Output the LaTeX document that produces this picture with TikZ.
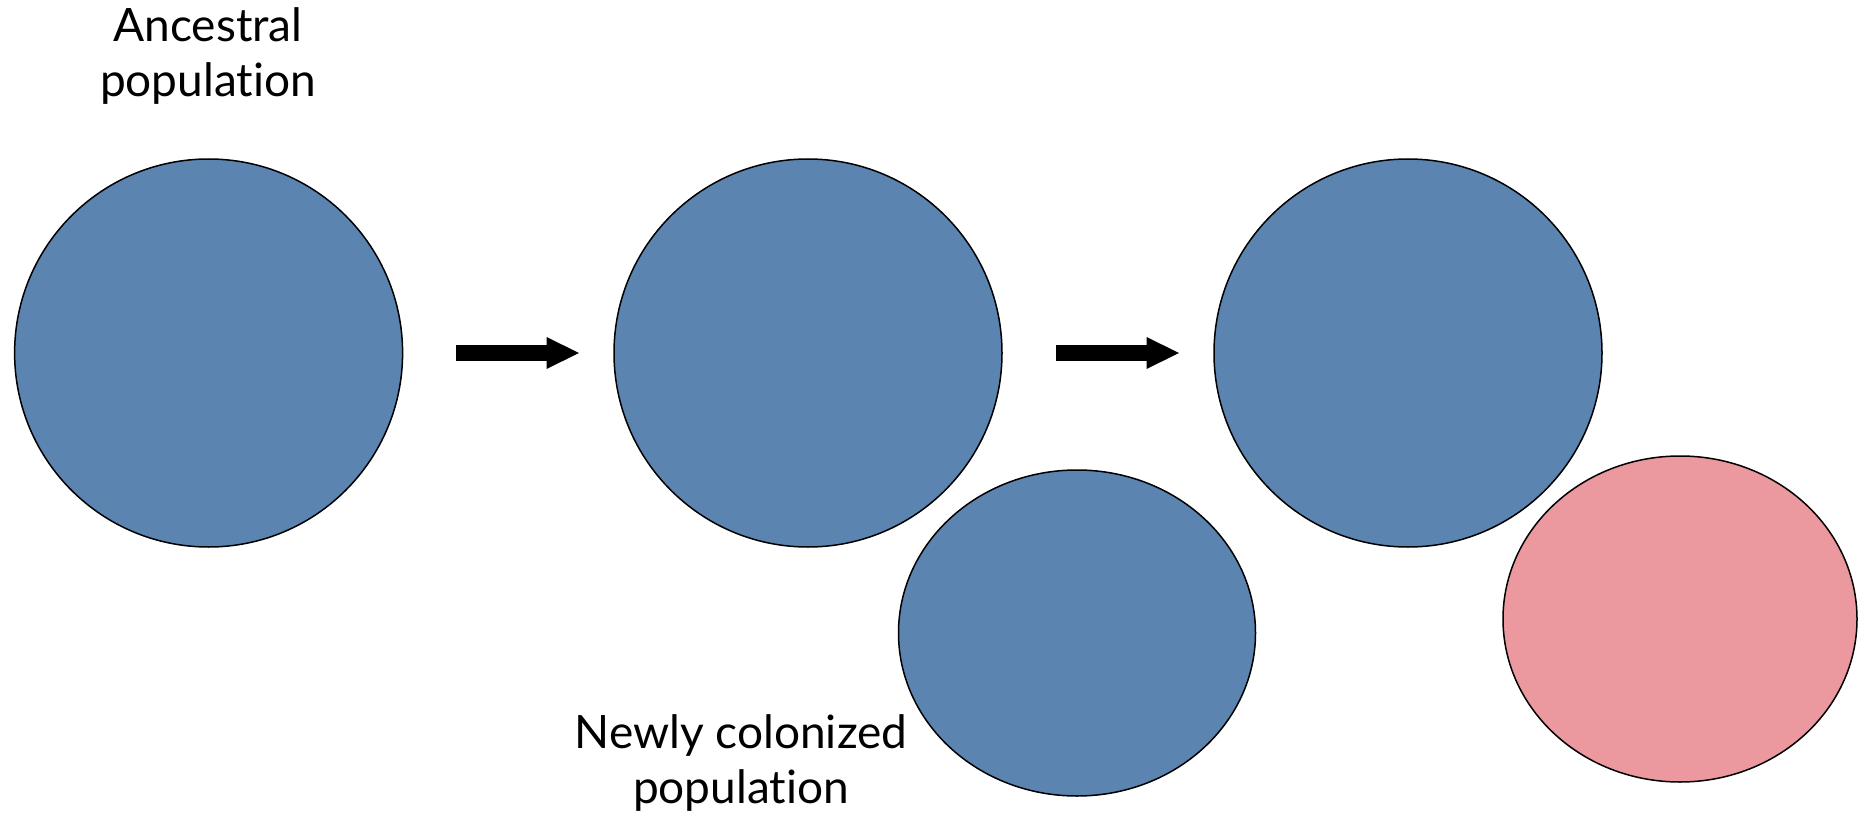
\documentclass[tikz,border=0pt]{standalone}
\usepackage{fontspec}
\setmainfont{Lato}[Ligatures=NoCommon]
\usetikzlibrary{shapes.geometric}
\definecolor{popblue}{RGB}{91,132,177}
\definecolor{poppink}{RGB}{235,152,159}
\tikzset{
  pop/.style={draw=black, line width=1.5pt, fill=popblue, inner sep=0pt},
  poplabel/.style={font=\fontsize{46}{55}\selectfont, align=center, inner sep=0pt, anchor=base},
  fatarrow/.style={fill=black, draw=none}
}
\begin{document}
\begin{tikzpicture}[x=1pt, y=-1pt]
  \useasboundingbox (0,0) rectangle (1858,813);
  % populations
  \node[pop, circle, minimum size=388pt] (anc) at (208.6,353) {};
  \node[pop, circle, minimum size=388pt] (mid) at (808,353) {};
  \node[pop, ellipse, minimum width=357pt, minimum height=326pt] (col) at (1077,633) {};
  \node[pop, circle, minimum size=388pt] (src) at (1408,353) {};
  \node[pop, ellipse, fill=poppink, minimum width=354pt, minimum height=326pt] (div) at (1680,619) {};
  % labels (anchored on the baseline of their last line)
  \node[poplabel] (anclab) at (208,97) {Ancestral\\population};
  \node[poplabel] (collab) at (741,803) {Newly colonized\\population};
  % arrows between stages
  \coordinate (a1s) at (456,353);
  \coordinate (a1e) at (579,353);
  \coordinate (a2s) at (1056,353);
  \coordinate (a2e) at (1179,353);
  \foreach \s/\e in {a1s/a1e, a2s/a2e}{
    \fill[fatarrow] ([yshift=-7.8pt]\s) -- ([xshift=-32.5pt,yshift=-7.8pt]\e)
      -- ([xshift=-32.5pt,yshift=-16pt]\e) -- (\e)
      -- ([xshift=-32.5pt,yshift=16pt]\e) -- ([xshift=-32.5pt,yshift=7.8pt]\e)
      -- ([yshift=7.8pt]\s) -- cycle;
  }
\end{tikzpicture}
\end{document}
